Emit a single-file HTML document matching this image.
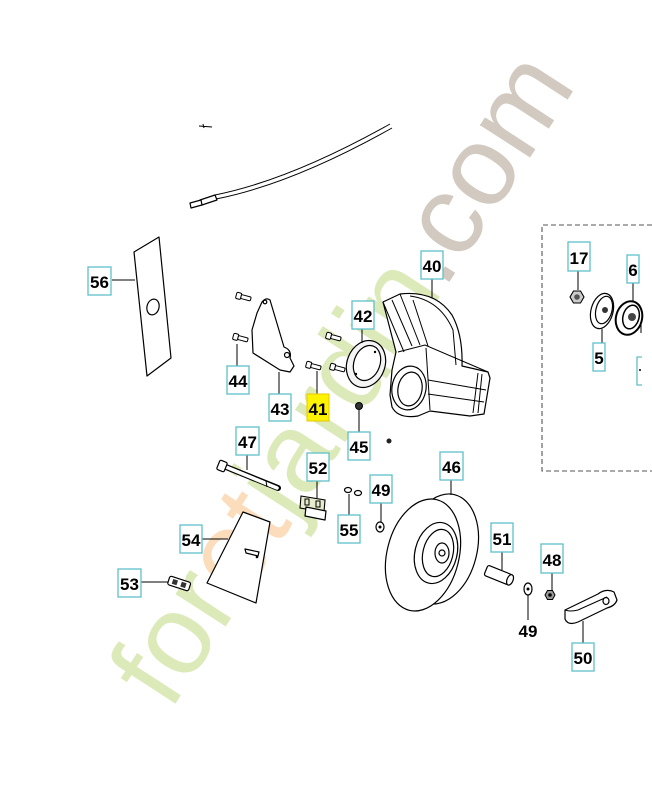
<!DOCTYPE html>
<html><head><meta charset="utf-8"><style>
html,body{margin:0;padding:0;background:#fff;}
svg{display:block;}
.lb{font-family:"Liberation Sans",sans-serif;font-weight:bold;font-size:17px;fill:#000;}
.bx{fill:#fff;stroke:#5fbfca;stroke-width:1.3;}
.ld{stroke:#000;stroke-width:1;fill:none;}
.pt{stroke:#000;stroke-width:1.2;fill:#fff;stroke-linejoin:round;}
</style></head><body>
<svg width="652" height="800" viewBox="0 0 652 800" xmlns="http://www.w3.org/2000/svg">
<!-- watermark -->
<g transform="translate(170,712) rotate(-57)" font-family="Liberation Sans, sans-serif" font-size="113">
<text x="0" y="0"><tspan fill="#dce9b8">for</tspan><tspan fill="#fbdcbb">et</tspan><tspan fill="#dce9b8">jardin</tspan><tspan fill="#d2cac0">.com</tspan></text>
</g>

<defs>
<g id="bolt"><rect x="-7" y="-3.2" width="5" height="6.4" rx="1.2" fill="#fff" stroke="#000" stroke-width="1"/><rect x="-2" y="-2" width="10" height="4" rx="1" fill="#fff" stroke="#000" stroke-width="1"/></g>
</defs>

<!-- cable -->
<path d="M390,124 Q290,180 215,195" class="ld" stroke-width="1.1"/>
<path d="M392,128 Q292,184 216,199" class="ld" stroke-width="1.1"/>
<path d="M200,200 L215,195 L217,200 L202,205 Z" class="pt" stroke-width="1"/>
<path d="M190,203 L201,200 L202,205 L191,208 Z" class="pt" stroke-width="1"/>
<path d="M199,126 L212,127 M203,124 L204,128" class="ld" stroke-width="1.1"/>

<!-- 56 plate -->
<polygon points="134,252 159,237 171,358 147,376" class="pt"/>
<ellipse cx="153" cy="307" rx="6" ry="8" transform="rotate(15 153 307)" class="pt"/>
<line x1="112" y1="280" x2="135" y2="280" class="ld"/>
<rect x="88" y="267" width="23" height="28" class="bx"/><text x="99.5" y="288" text-anchor="middle" class="lb">56</text>

<!-- 44 bolts -->
<use href="#bolt" transform="translate(243,297) rotate(15)"/>
<use href="#bolt" transform="translate(240,338) rotate(15)"/>
<line x1="237" y1="344" x2="237" y2="366" class="ld"/>
<rect x="227" y="366" width="22" height="28" class="bx"/><text x="238" y="387" text-anchor="middle" class="lb">44</text>

<!-- 43 bracket -->
<path d="M262,302 Q266,297 270,300 L284,347 Q292,350 290,358 L294,366 L290,372 L280,370 L253,353 L252,330 L257,313 Z" class="pt"/>
<circle cx="265" cy="302" r="1.8" class="pt" stroke-width="0.9"/>
<circle cx="287" cy="355" r="2.5" class="pt" stroke-width="0.9"/>
<line x1="279" y1="372" x2="279" y2="394" class="ld"/>
<rect x="269" y="394" width="22" height="27" class="bx"/><text x="280" y="415" text-anchor="middle" class="lb">43</text>

<!-- 41 bolts -->
<use href="#bolt" transform="translate(313,366) rotate(15)"/>
<use href="#bolt" transform="translate(337,368) rotate(15)"/>
<use href="#bolt" transform="translate(333,337) rotate(15)"/>
<line x1="317" y1="371" x2="317" y2="394" class="ld"/>
<rect x="307" y="394" width="22" height="27" fill="#fdf200" stroke="#e8c800" stroke-width="1"/><text x="318" y="415" text-anchor="middle" class="lb">41</text>

<!-- 42 ring -->
<ellipse cx="366" cy="364" rx="19" ry="24" transform="rotate(20 366 364)" fill="#f4f4f4" stroke="#000" stroke-width="1.2"/>
<ellipse cx="367" cy="363" rx="13" ry="18" transform="rotate(20 367 363)" class="pt"/>
<circle cx="356" cy="374" r="1.2" fill="#000"/><circle cx="375" cy="352" r="1.2" fill="#000"/>
<line x1="362" y1="329" x2="362" y2="343" class="ld"/>
<rect x="352" y="301" width="22" height="28" class="bx"/><text x="363" y="322" text-anchor="middle" class="lb">42</text>

<!-- 40 housing -->
<path d="M383,302 L400,294 Q435,290 452,315 Q463,335 462,366 L488,372 L490,378 L484,414 L470,416 L430,411 L418,416 Q398,419 392,407 L390,395 L392,370 L396,352 Z" class="pt" stroke-width="1.3"/>
<path d="M383,302 L404,352 M392,300 L412,346 M400,294 L420,345 M410,296 Q440,300 453,330 L456,365 M413,300 L428,346" class="ld" stroke-width="1.1"/>
<path d="M398,352 L425,345 L488,372" class="ld" stroke-width="1.1"/>
<path d="M426,348 L430,410" class="ld" stroke-width="1"/>
<path d="M428,380 L486,390 M428,394 L484,402 M478,373 L473,413 M482,374 L478,413" class="ld" stroke-width="1"/>
<ellipse cx="409" cy="388" rx="17" ry="22" transform="rotate(10 409 388)" class="pt" stroke-width="1.3"/>
<ellipse cx="410" cy="389" rx="12" ry="17" transform="rotate(10 410 389)" class="pt"/>
<line x1="432" y1="279" x2="432" y2="298" class="ld"/>
<rect x="421" y="251" width="22" height="28" class="bx"/><text x="432" y="272" text-anchor="middle" class="lb">40</text>

<!-- 45 -->
<circle cx="359" cy="406" r="3.5" fill="#333" stroke="#000"/>
<circle cx="389" cy="441" r="2.5" fill="#222"/>
<line x1="359" y1="410" x2="359" y2="432" class="ld"/>
<rect x="348" y="432" width="22" height="28" class="bx"/><text x="359" y="453" text-anchor="middle" class="lb">45</text>

<!-- dashed group box -->
<path d="M660,225 L542,225 L542,471 L660,471" fill="none" stroke="#555" stroke-width="1.1" stroke-dasharray="5,3"/>
<!-- 17 -->
<polygon points="584,297 580.5,303 573.5,303 570,297 573.5,291 580.5,291" fill="#ccc" stroke="#000" stroke-width="1.1"/>
<circle cx="577" cy="297" r="2.8" fill="#555"/>
<line x1="578" y1="270" x2="578" y2="290" class="ld"/>
<rect x="568" y="242" width="22" height="29" class="bx"/><text x="579" y="264" text-anchor="middle" class="lb">17</text>
<!-- 5 -->
<ellipse cx="602" cy="311" rx="11" ry="18" transform="rotate(15 602 311)" class="pt" stroke-width="1.3"/>
<ellipse cx="604" cy="310" rx="8" ry="14" transform="rotate(15 604 310)" class="pt" stroke-width="0.9"/>
<circle cx="605" cy="310" r="3" fill="#333"/>
<line x1="602" y1="329" x2="602" y2="343" class="ld"/>
<rect x="593" y="343" width="12" height="28" class="bx"/><text x="599" y="364" text-anchor="middle" class="lb">5</text>
<!-- 6 -->
<ellipse cx="629" cy="318" rx="13" ry="17" transform="rotate(15 629 318)" fill="#fff" stroke="#000" stroke-width="2"/>
<ellipse cx="631" cy="317" rx="8" ry="12" transform="rotate(15 631 317)" fill="#fff" stroke="#000" stroke-width="1.5"/>
<circle cx="632" cy="317" r="4" fill="#444"/>
<line x1="633" y1="283" x2="633" y2="302" class="ld"/>
<rect x="627" y="255" width="12" height="28" class="bx"/><text x="633" y="276" text-anchor="middle" class="lb">6</text>
<line x1="641" y1="322" x2="641" y2="333" class="ld"/>
<path d="M642,357 L637,357 L637,385 L642,385" fill="none" stroke="#5fbfca" stroke-width="1.3"/>
<circle cx="640" cy="370" r="1" fill="#000"/>

<!-- 47 pin -->
<line x1="226" y1="467" x2="278" y2="488" stroke="#000" stroke-width="6" stroke-linecap="round"/>
<line x1="226" y1="467" x2="277" y2="488" stroke="#fff" stroke-width="3.6" stroke-linecap="round"/>
<rect x="218" y="461" width="8" height="10" rx="1.5" transform="rotate(22 222 466)" class="pt" stroke-width="1.1"/>
<line x1="266" y1="481" x2="267" y2="487" class="ld"/>
<line x1="247" y1="455" x2="247" y2="470" class="ld"/>
<rect x="236" y="427" width="23" height="28" class="bx"/><text x="247.5" y="448" text-anchor="middle" class="lb">47</text>

<!-- 52 -->
<path d="M301,496 L325,500 L324,512 L300,508 Z" fill="#e6eccc" stroke="#000" stroke-width="1.1"/>
<path d="M306,507 L326,511 L325,520 L305,516 Z" class="pt" stroke-width="1.1"/>
<rect x="305" y="499" width="4" height="6" fill="none" stroke="#000"/><rect x="316" y="501" width="4" height="6" fill="none" stroke="#000"/>
<line x1="317" y1="481" x2="317" y2="498" class="ld"/>
<rect x="307" y="453" width="22" height="28" class="bx"/><text x="318" y="474" text-anchor="middle" class="lb">52</text>

<!-- 55 -->
<ellipse cx="348" cy="490" rx="3.5" ry="2.5" class="pt"/><ellipse cx="358" cy="493" rx="3.5" ry="2.5" class="pt"/>
<line x1="349" y1="494" x2="349" y2="515" class="ld"/>
<rect x="338" y="515" width="22" height="28" class="bx"/><text x="349" y="536" text-anchor="middle" class="lb">55</text>

<!-- 49 -->
<ellipse cx="380" cy="527" rx="4" ry="5" class="pt"/><circle cx="380" cy="527" r="1.5" fill="#000"/>
<line x1="381" y1="503" x2="381" y2="522" class="ld"/>
<rect x="370" y="475" width="22" height="28" class="bx"/><text x="381" y="496" text-anchor="middle" class="lb">49</text>

<!-- 54 -->
<polygon points="243,512 270,522 256,603 207,583" class="pt"/>
<path d="M245,549 L259,552 L258,556 L246,553 Z" class="pt" stroke-width="1"/>
<circle cx="257" cy="557" r="1.3" fill="#000"/>
<line x1="202" y1="539" x2="228" y2="539" class="ld"/>
<rect x="180" y="525" width="22" height="28" class="bx"/><text x="191" y="546" text-anchor="middle" class="lb">54</text>

<!-- 53 -->
<g transform="rotate(18 179 584)"><rect x="168" y="579" width="22" height="9" rx="2" class="pt" stroke-width="1.1"/><rect x="172" y="581" width="5" height="5" fill="#333"/><rect x="181" y="581" width="5" height="5" fill="#333"/></g>
<line x1="141" y1="582" x2="168" y2="582" class="ld"/>
<rect x="118" y="569" width="23" height="28" class="bx"/><text x="129.5" y="590" text-anchor="middle" class="lb">53</text>

<!-- 46 wheel -->
<ellipse cx="441" cy="549" rx="36" ry="56" transform="rotate(14 441 549)" class="pt" stroke-width="1.2"/>
<ellipse cx="423" cy="555" rx="36" ry="57" transform="rotate(14 423 555)" class="pt" stroke-width="1.2"/>
<ellipse cx="436" cy="553" rx="21" ry="31" transform="rotate(14 436 553)" class="pt" stroke-width="1.1"/>
<ellipse cx="438" cy="553" rx="15" ry="24" transform="rotate(14 438 553)" class="pt" stroke-width="1"/>
<ellipse cx="442" cy="553" rx="7" ry="10" class="pt" stroke-width="1"/>
<circle cx="442" cy="553" r="3" class="pt" stroke-width="1"/>
<line x1="451" y1="480" x2="451" y2="495" class="ld"/>
<rect x="440" y="452" width="23" height="28" class="bx"/><text x="451.5" y="473" text-anchor="middle" class="lb">46</text>

<!-- 51 pin -->
<g transform="rotate(22 498 575)"><rect x="485" y="569.5" width="26" height="11" rx="2" class="pt" stroke-width="1.1"/><ellipse cx="511" cy="575" rx="3" ry="5.5" class="pt" stroke-width="1"/></g>
<line x1="502" y1="552" x2="502" y2="570" class="ld"/>
<rect x="491" y="523" width="22" height="29" class="bx"/><text x="502" y="545" text-anchor="middle" class="lb">51</text>

<!-- 48 -->
<polygon points="555,595 552.5,599.5 547.5,599.5 545,595 547.5,590.5 552.5,590.5" fill="#999" stroke="#000"/>
<circle cx="550" cy="595" r="1.8" fill="#000"/>
<line x1="552" y1="573" x2="552" y2="590" class="ld"/>
<rect x="541" y="544" width="22" height="29" class="bx"/><text x="552" y="566" text-anchor="middle" class="lb">48</text>

<!-- 49 lower -->
<ellipse cx="528" cy="589" rx="4" ry="6" class="pt"/><circle cx="528" cy="589" r="1.5" fill="#000"/>
<line x1="528" y1="595" x2="528" y2="620" class="ld"/>
<text x="528" y="637" text-anchor="middle" class="lb">49</text>

<!-- 50 handle -->
<path d="M565,610 L598,594 Q606,588 614,592 L617,600 Q615,606 607,608 L578,622 Q568,626 565,619 Z" class="pt"/>
<path d="M565,610 Q570,612 578,610 L607,597" class="ld"/>
<ellipse cx="606" cy="601" rx="3" ry="3.5" class="pt"/>
<line x1="583" y1="621" x2="583" y2="643" class="ld"/>
<rect x="572" y="643" width="22" height="28" class="bx"/><text x="583" y="664" text-anchor="middle" class="lb">50</text>
</svg>
</body></html>
